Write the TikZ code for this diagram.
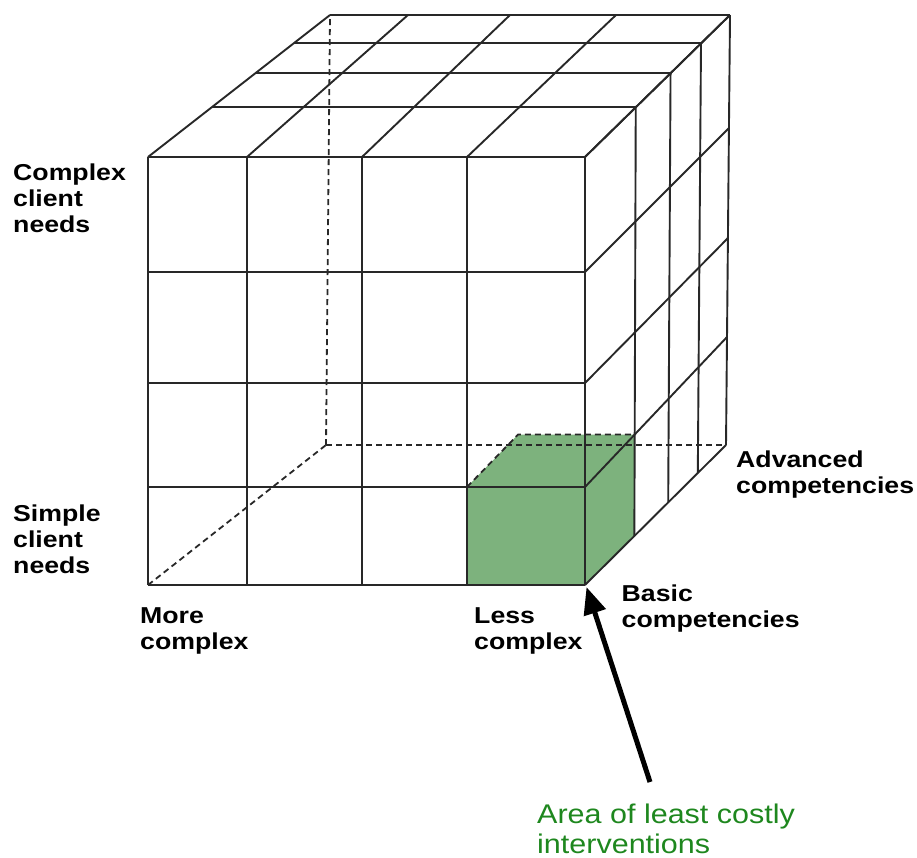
\documentclass[tikz,border=0pt]{standalone}
\usepackage{fontspec}
\usetikzlibrary{arrows.meta,calc}
\newfontfamily\lblfont[FakeStretch=1.16]{Liberation Sans}
\newfontfamily\notefont[FakeStretch=1.13]{Liberation Sans}
\definecolor{cellgreen}{RGB}{125,178,125}
\definecolor{notegreen}{RGB}{30,135,30}
\definecolor{gridgray}{RGB}{40,40,40}
\tikzset{
  gridline/.style={draw=gridgray, line width=1.9pt},
  hiddenline/.style={draw=gridgray, line width=1.8pt, dash pattern=on 6pt off 4pt},
  cellfill/.style={fill=cellgreen},
  axislabel/.style={inner sep=0pt, align=left, anchor=base west,
    font=\lblfont\bfseries\fontsize{23pt}{26pt}\selectfont},
  notelabel/.style={inner sep=0pt, align=left, anchor=base west, text=notegreen,
    font=\notefont\fontsize{27pt}{30pt}\selectfont},
  pointer/.style={draw=black, line width=5pt, -{Triangle[length=27pt,width=22pt]}}
}
\begin{document}
\begin{tikzpicture}[x=1pt,y=-1pt]
\useasboundingbox (0,0) rectangle (917,857);

% lattice points p<i><j><k>: i = column (left to right), j = row (bottom to top),
% k = depth (front to back); front and back faces blended by depth weight
\foreach \i in {0,...,4}{
  \foreach \j in {0,...,4}{
    \foreach \k in {0,...,4}{
      \pgfmathsetmacro\tw{{0,0.35,0.59,0.8,1}[\k]}
      \pgfmathsetmacro\xF{{148,247,362,467,585}[\i]}
      \pgfmathsetmacro\yF{{585,487,383,272,157}[\j]}
      \pgfmathsetmacro\xB{{330,408,510,616,730}[\i]-4*(1-\j/4)}
      \pgfmathsetmacro\yB{{445,337,238,128,15}[\j]}
      \coordinate (p\i\j\k) at ({(1-\tw)*\xF+\tw*\xB},{(1-\tw)*\yF+\tw*\yB});
    }
  }
}

% highlighted cell: front, top and right faces
\fill[cellfill] (p300) -- (p400) -- (p410) -- (p310) -- cycle;
\fill[cellfill] (p310) -- (p410) -- (p411) -- (p311) -- cycle;
\fill[cellfill] (p400) -- (p401) -- (p411) -- (p410) -- cycle;

% hidden edges
\draw[hiddenline] (p000) -- (p004);
\draw[hiddenline] (p004) -- (p404);
\draw[hiddenline] (p004) -- (p044);
\draw[hiddenline] (p310) -- (p311) -- (p411);

% front face
\foreach \n in {0,...,4}{
  \draw[gridline] (p\n00) -- (p\n40);
  \draw[gridline] (p0\n0) -- (p4\n0);
}
% top face
\foreach \n in {0,...,4}{
  \draw[gridline] (p\n40) -- (p\n44);
  \draw[gridline] (p04\n) -- (p44\n);
}
% right face
\foreach \n in {0,...,4}{
  \draw[gridline] (p4\n0) -- (p4\n4);
  \draw[gridline] (p40\n) -- (p44\n);
}

% axis labels (anchored at the baseline of their last line)
\node[axislabel] (complexneeds) at (13,232.7) {Complex\\client\\needs};
\node[axislabel] (simpleneeds) at (13,573.7) {Simple\\client\\needs};
\node[axislabel] (morecomplex) at (140,649) {More\\complex};
\node[axislabel] (lesscomplex) at (474,649) {Less\\complex};
\node[axislabel] (basic) at (621.5,627.7) {Basic\\competencies};
\node[axislabel] (advanced) at (736,493.3) {Advanced\\competencies};

% note and pointer
\node[notelabel] (note) at (537,853) {Area of least costly\\interventions};
\coordinate (tail) at (650,782);
\coordinate (tip) at ($(p400)+(1.5,2)$);
\draw[pointer] (tail) -- (tip);
\end{tikzpicture}
\end{document}
